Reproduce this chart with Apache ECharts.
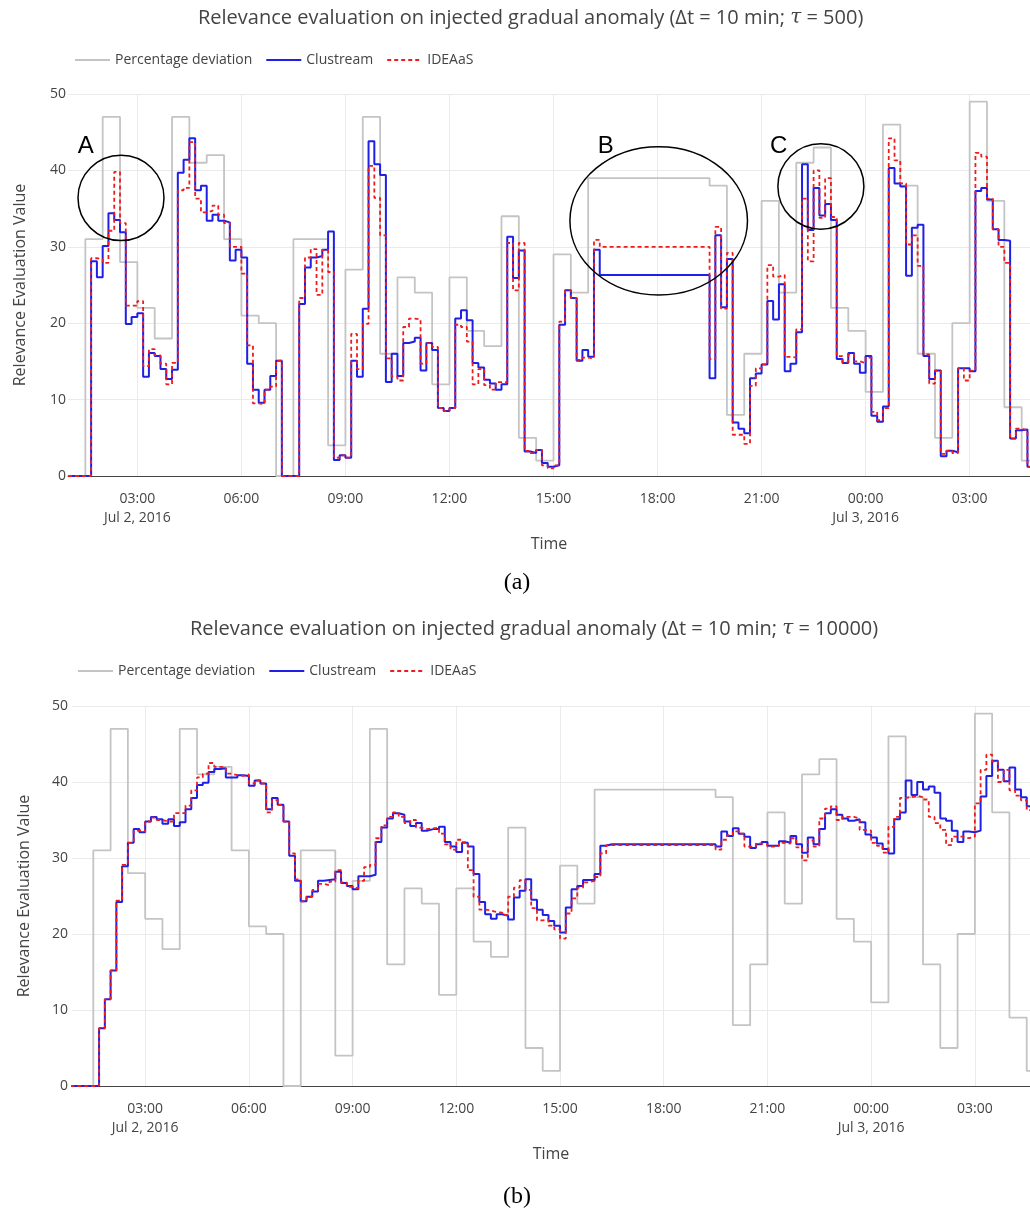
<!DOCTYPE html>
<html><head><meta charset="utf-8">
<script src="https://cdn.jsdelivr.net/npm/echarts@6/dist/echarts.min.js"></script>
<style>html,body{margin:0;padding:0;background:#fff}#c{width:1030px;height:1214px}</style>
</head><body><div id="c"></div>
<script>
// Percentage deviation: 30-minute steps starting Jul 2, 2016 01:00
const pctDeviation = [0,31,47,28,22,18,47,41,42,31,21,20,0,31,31,4,27,47,16,26,24,12,26,19,17,34,5,2,29,24,
  39,39,39,39,39,39,39,38,8,16,36,24,41,43,22,19,11,46,38,16,5,20,49,36,9,2];

// tau = 500 : 10-minute steps starting Jul 2, 2016 01:00
const clustreamTau500 = [
  0,0,0,0,28.1,26.0,30.1,34.4,33.5,31.9,
  19.9,20.8,21.3,13.0,16.1,15.7,14.0,12.7,13.9,39.7,
  41.4,44.2,37.4,38.0,33.4,34.2,33.4,33.2,28.2,29.6,
  28.6,14.7,11.3,9.6,11.3,13.1,15.1,0,0,0,
  22.5,27.3,28.6,28.8,29.6,32.0,2.1,2.7,2.4,15.1,
  13.0,21.9,43.8,40.8,39.4,12.3,16.0,13.1,17.4,17.6,
  18.1,13.8,17.4,16.5,8.9,8.5,8.9,20.6,21.7,20.4,
  14.8,14.2,12.6,12.1,11.3,12.0,31.3,25.9,29.5,3.2,
  3.0,3.4,1.7,1.2,1.4,19.8,24.3,23.3,15.1,16.5,
  15.6,29.6,26.3,26.3,26.3,26.3,26.3,26.3,26.3,26.3,
  26.3,26.3,26.3,26.3,26.3,26.3,26.3,26.3,26.3,26.3,
  26.3,12.8,31.5,22.1,28.4,7.0,6.2,5.6,12.8,13.4,
  14.6,22.9,20.5,25.1,13.7,14.7,18.8,40.8,32.2,37.7,
  34.1,35.6,33.5,15.3,14.8,16.1,14.7,13.5,15.7,7.9,
  7.1,9.1,40.3,38.3,37.9,26.2,32.5,32.9,15.7,12.7,
  13.8,2.6,3.3,3.1,14.1,14.1,13.7,37.3,37.7,36.2,
  32.3,30.9,30.8,4.9,6.0,6.1,1.2];
const ideaasTau500 = [
  0,0,0,0,28.5,28.4,27.9,32.1,39.8,33.1,
  22.3,22.3,22.9,14.4,16.6,15.8,14.7,12.0,14.8,37.4,
  37.7,43.7,36.3,34.5,34.7,35.4,34.2,33.1,30.0,30.0,
  26.5,17.1,9.5,9.4,11.3,11.7,15.1,0,0,0,
  23.3,28.6,29.7,23.7,29.6,26.7,2.4,2.7,2.4,18.6,
  14.0,19.9,40.6,36.4,31.5,15.4,13.0,12.5,19.5,20.6,
  20.5,14.7,17.4,16.9,8.9,8.5,8.9,19.8,19.5,17.6,
  12.0,14.0,11.9,11.3,12.3,12.3,30.5,24.3,30.5,3.3,
  3.0,3.4,1.4,1.0,1.4,20.2,24.3,23.3,15.2,15.5,
  15.4,30.9,30.0,30.0,30.0,30.0,30.0,30.0,30.0,30.0,
  30.0,30.0,30.0,30.0,30.0,30.0,30.0,30.0,30.0,30.0,
  30.0,15.3,32.6,21.9,29.2,5.4,5.4,4.2,11.8,14.1,
  14.6,27.6,26.1,26.3,15.6,15.5,19.2,36.3,28.1,40.0,
  33.8,39.0,33.9,15.7,14.9,15.9,15.0,14.8,15.5,8.4,
  7.3,8.9,44.2,41.3,38.3,30.3,31.5,27.5,15.9,12.1,
  13.8,2.9,3.3,3.0,14.1,12.5,13.8,42.3,41.8,36.3,
  32.3,30.0,27.9,4.9,6.2,6.0,1.2];

// tau = 10000 : 10-minute steps starting Jul 2, 2016 00:50
const clustreamTau10000 = [0,
  0,0,0,0,7.6,11.4,15.2,24.2,28.9,32.0,
  33.8,33.4,34.8,35.4,35.1,34.5,35.1,34.2,34.7,36.4,
  37.9,39.6,39.9,41.3,41.7,41.8,40.6,40.6,40.9,40.8,
  39.5,40.2,39.8,36.4,37.9,37.0,34.8,30.3,27.0,24.3,
  24.9,25.6,27.0,27.1,27.2,28.2,26.7,26.3,25.9,27.6,
  27.6,27.8,32.1,34.0,35.2,35.9,35.7,34.8,34.2,34.6,
  33.6,33.8,33.8,34.1,32.1,31.5,30.8,32.0,31.5,27.9,
  24.2,22.6,22.0,22.6,22.4,21.9,24.8,25.7,27.2,24.5,
  23.2,22.5,21.7,21.1,20.2,23.5,25.9,26.3,27.1,27.1,
  27.9,31.6,31.8,31.8,31.8,31.8,31.8,31.8,31.8,31.8,
  31.8,31.8,31.8,31.8,31.8,31.8,31.8,31.8,31.8,31.8,
  31.8,31.5,33.5,32.9,33.9,33.2,32.8,31.3,31.8,32.1,
  31.6,31.6,32.2,32.0,32.9,31.8,30.7,32.7,31.8,33.8,
  35.9,36.4,35.7,35.2,34.9,35.1,34.7,33.1,32.7,31.9,
  31.2,30.6,35.1,36.0,40.2,38.3,40.0,39.0,39.4,38.6,
  35.2,34.9,33.6,32.1,33.5,33.4,33.6,38.1,40.8,42.8,
  41.6,40.1,41.9,39.0,38.0,36.8,36.8];
const ideaasTau10000 = [0,
  0,0,0,0,7.6,11.4,15.2,24.4,29.1,32.0,
  33.6,33.5,34.8,35.3,35.0,34.8,34.8,35.9,35.9,36.9,
  38.9,40.6,41.1,42.5,42.0,41.9,41.1,40.9,40.8,41.0,
  39.8,40.2,39.8,36.0,37.6,37.0,34.8,30.6,27.2,24.3,
  24.9,25.8,26.6,26.4,26.9,28.4,26.8,26.2,26.0,27.0,
  28.8,29.1,32.6,34.3,35.4,36.0,35.4,34.6,35.0,34.0,
  33.8,33.9,34.0,33.2,31.8,31.1,32.4,32.1,28.4,24.9,
  23.2,23.1,22.9,22.8,22.5,24.9,26.1,27.1,25.8,23.4,
  21.8,21.9,21.1,20.6,19.4,22.7,24.7,26.1,26.8,27.0,
  27.5,30.6,31.7,31.7,31.7,31.7,31.7,31.7,31.7,31.7,
  31.7,31.7,31.7,31.7,31.7,31.7,31.7,31.7,31.7,31.7,
  31.7,31.1,32.4,33.0,33.5,33.2,31.5,31.5,31.9,31.8,
  31.5,31.6,32.0,31.9,32.6,31.4,29.7,32.3,31.5,35.2,
  36.5,36.8,35.0,35.4,35.4,35.2,33.7,33.6,32.0,31.6,
  30.7,34.1,35.4,37.9,38.0,38.2,38.0,37.7,35.4,34.6,
  33.7,31.7,32.8,32.8,32.6,32.8,37.2,41.6,43.6,42.7,
  40.0,41.6,38.9,38.2,37.6,36.3,36.3];

const seriesNames = ['Percentage deviation', 'Clustream', 'IDEAaS'];

// x-axis tick positions (UTC)
const tickTimes = ['2016-07-02T03:00Z','2016-07-02T06:00Z','2016-07-02T09:00Z','2016-07-02T12:00Z',
  '2016-07-02T15:00Z','2016-07-02T18:00Z','2016-07-02T21:00Z','2016-07-03T00:00Z','2016-07-03T03:00Z'];

// Annotations on chart (a): ellipse centre (time, value), radii (minutes, value units), label position
const annotations = [
  {label:'A', t:[2,2,31.7], v:36.4, rxMin:74.4, ry:5.59, lt:[2,1,30.8], lv:43.2},
  {label:'B', t:[2,18,2],   v:33.4, rxMin:153.6, ry:9.71, lt:[2,16,30.6], lv:43.2},
  {label:'C', t:[2,22,42.6],v:37.9, rxMin:74.4, ry:5.59, lt:[2,21,29.4], lv:43.2}
];

function T(day, h, m) { return Date.UTC(2016, 6, day, h, 0, 0) + Math.round(m * 60000); }
function steps(start, stepMin, arr) {
  const pts = arr.map((v, i) => [start + i * stepMin * 60000, v]);
  pts.push([start + arr.length * stepMin * 60000, arr[arr.length - 1]]);
  return pts;
}
function pad(n) { return (n < 10 ? '0' : '') + n; }
function fmt(v) {
  const d = new Date(v);
  const h = d.getUTCHours(), m = d.getUTCMinutes();
  let s = pad(h) + ':' + pad(m);
  if (h === 0 || (d.getUTCDate() === 2 && h === 3)) s += '\nJul ' + d.getUTCDate() + ', 2016';
  return s;
}
const tickValues = tickTimes.map(s => Date.parse(s));

const FONT = 'Open Sans';
const TXT = '#444';
const colors = ['#c4c4c4', '#1f1fe6', '#ee1c1c'];

function xAxis(grid, min, max) {
  return {
    type: 'value', gridIndex: grid, min: min, max: max, scale: true,
    axisLine: {show: true, onZero: false, lineStyle: {color: '#444', width: 1}},
    axisTick: {show: false, customValues: tickValues},
    splitLine: {show: true, lineStyle: {color: '#eaeaea', width: 1}},
    axisLabel: {customValues: tickValues, formatter: fmt, color: TXT, fontSize: 14, lineHeight: 19, margin: 14,
      fontFamily: FONT, hideOverlap: false},
    name: 'Time', nameLocation: 'middle', nameGap: 60,
    nameTextStyle: {fontSize: 16, color: TXT, fontFamily: FONT}
  };
}
function yAxis(grid, margin) {
  return {
    type: 'value', gridIndex: grid, min: 0, max: 50, interval: 10,
    axisLine: {show: false}, axisTick: {show: false},
    splitLine: {show: true, lineStyle: {color: '#eaeaea', width: 1}},
    axisLabel: {color: TXT, fontSize: 14, margin: margin, fontFamily: FONT},
    name: 'Relevance Evaluation Value', nameLocation: 'middle', nameGap: 40,
    nameTextStyle: {fontSize: 16, color: TXT, fontFamily: FONT}
  };
}
function mkSeries(idx, name, data, k) {
  const ls = {color: colors[k], width: k === 0 ? 1.8 : (k === 1 ? 2 : 1.8)};
  if (k === 2) { ls.type = [4, 3]; }
  return {
    type: 'line', name: name, xAxisIndex: idx, yAxisIndex: idx, data: data,
    step: 'end', symbol: 'none', showSymbol: false, lineStyle: ls, itemStyle: {color: colors[k]},
    z: 2 + k, animation: false, emphasis: {disabled: true}
  };
}
function legend(left, top) {
  return {left: left, top: top, itemWidth: 35, itemHeight: 14, itemGap: 13, padding: 0,
    itemStyle: {opacity: 0},
    data: seriesNames, textStyle: {fontSize: 14, color: TXT, fontFamily: FONT}};
}
function title(txt, tau, left, top) {
  return {
    left: left, top: top, padding: 0,
    text: '{n|' + txt + '}{t|τ}{n| = ' + tau + ')}',
    textStyle: {rich: {
      n: {fontSize: 20, color: TXT, fontFamily: FONT, fontWeight: 'normal'},
      t: {fontSize: 20, color: TXT, fontFamily: 'DejaVu Serif', fontStyle: 'italic', fontWeight: 'normal'}
    }}
  };
}

const t500 = T(2, 1, 0), t10000 = T(2, 0, 50);
const option = {
  animation: false,
  backgroundColor: '#fff',
  title: [
    title('Relevance evaluation on injected gradual anomaly (Δt = 10 min; ', 500, 198, 8),
    title('Relevance evaluation on injected gradual anomaly (Δt = 10 min; ', 10000, 190, 619)
  ],
  legend: [legend(74, 53), legend(77, 664)],
  grid: [
    {left: 68, right: 0, top: 94, height: 382},
    {left: 72, right: 0, top: 706, height: 380}
  ],
  xAxis: [xAxis(0, T(2, 1, 0), T(3, 4, 44.4)), xAxis(1, T(2, 0, 53), T(3, 4, 35.7))],
  yAxis: [yAxis(0, 2), yAxis(1, 4)],
  series: [
    mkSeries(0, seriesNames[0], steps(t500, 30, pctDeviation), 0),
    mkSeries(0, seriesNames[1], steps(t500, 10, clustreamTau500), 1),
    mkSeries(0, seriesNames[2], steps(t500, 10, ideaasTau500), 2),
    mkSeries(1, seriesNames[0], steps(t500, 30, pctDeviation), 0),
    mkSeries(1, seriesNames[1], steps(t10000, 10, clustreamTau10000), 1),
    mkSeries(1, seriesNames[2], steps(t10000, 10, ideaasTau10000), 2)
  ]
};

const chart = echarts.init(document.getElementById('c'), null, {renderer: 'canvas'});
chart.setOption(option);

const g = [];
annotations.forEach(a => {
  const tc = T(a.t[0], a.t[1], a.t[2]);
  const c = chart.convertToPixel({xAxisIndex: 0, yAxisIndex: 0}, [tc, a.v]);
  const e = chart.convertToPixel({xAxisIndex: 0, yAxisIndex: 0}, [tc + a.rxMin * 60000, a.v + a.ry]);
  g.push({type: 'ellipse', z: 100, silent: true,
    shape: {cx: c[0], cy: c[1], rx: e[0] - c[0], ry: c[1] - e[1]},
    style: {fill: 'none', stroke: '#000', lineWidth: 1.5}});
  const l = chart.convertToPixel({xAxisIndex: 0, yAxisIndex: 0}, [T(a.lt[0], a.lt[1], a.lt[2]), a.lv]);
  g.push({type: 'text', z: 100, silent: true, x: l[0], y: l[1],
    style: {text: a.label, fill: '#000', fontSize: 24, fontFamily: 'Liberation Sans', align: 'center', verticalAlign: 'middle'}});
});
g.push({type: 'text', x: 517, y: 583, style: {text: '(a)', fill: '#000', fontSize: 24, fontFamily: 'Liberation Serif', align: 'center', verticalAlign: 'middle'}});
g.push({type: 'text', x: 517, y: 1197, style: {text: '(b)', fill: '#000', fontSize: 24, fontFamily: 'Liberation Serif', align: 'center', verticalAlign: 'middle'}});
chart.setOption({graphic: g});
</script>
</body></html>
